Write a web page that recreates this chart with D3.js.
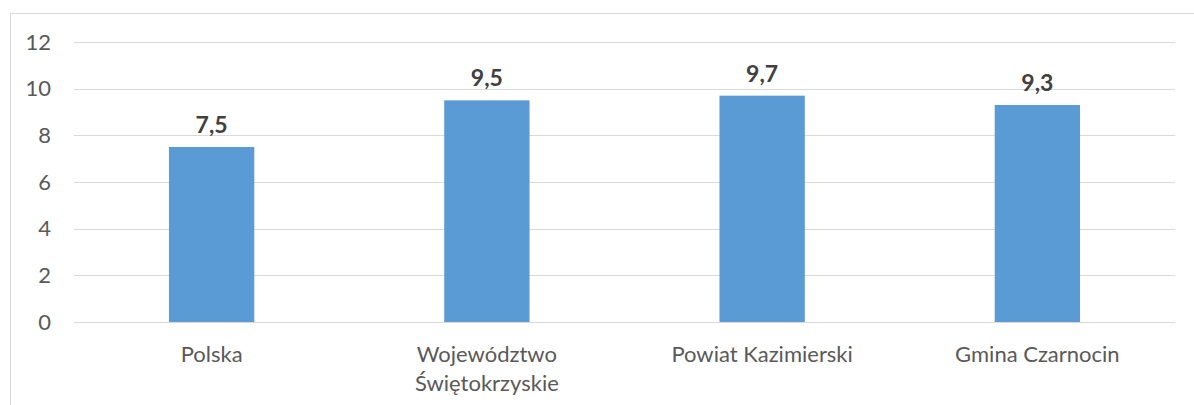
<!DOCTYPE html>
<html>
<head>
<meta charset="utf-8">
<script src="https://cdn.jsdelivr.net/npm/d3@7"></script>
<style>
  body { margin: 0; background: #fff; }
  svg { display: block; font-family: Lato, "Open Sans", sans-serif; }
</style>
</head>
<body>
<div id="chart"></div>
<script>
var categories = [["Polska"], ["Województwo", "Świętokrzyskie"], ["Powiat Kazimierski"], ["Gmina Czarnocin"]];
var values = [7.5, 9.5, 9.7, 9.3];
var yTicks = [0, 2, 4, 6, 8, 10, 12];

var width = 1194, height = 405;
var margin = {top: 42, right: 19, bottom: 83, left: 74};

var svg = d3.select("#chart").append("svg")
    .attr("width", width)
    .attr("height", height);

// chart frame
svg.append("rect")
    .attr("x", 10.5).attr("y", 13.5)
    .attr("width", 1200).attr("height", 420)
    .attr("fill", "none").attr("stroke", "#d9d9d9");

var x = d3.scaleBand()
    .domain(d3.range(categories.length))
    .range([margin.left, width - margin.right])
    .paddingInner(0.69).paddingOuter(0.345);

var y = d3.scaleLinear()
    .domain([0, 12])
    .range([height - margin.bottom, margin.top]);

// gridlines
svg.append("g").selectAll("line")
    .data(yTicks)
    .enter().append("line")
    .attr("x1", margin.left).attr("x2", width - margin.right)
    .attr("y1", function(d){ return Math.round(y(d)) + 0.5; })
    .attr("y2", function(d){ return Math.round(y(d)) + 0.5; })
    .attr("stroke", "#d9d9d9").attr("stroke-width", 1);

// y labels
svg.append("g").selectAll("text")
    .data(yTicks)
    .enter().append("text")
    .attr("x", 51)
    .attr("y", function(d){ return y(d); })
    .attr("dy", "0.35em")
    .attr("text-anchor", "end")
    .attr("fill", "#595959")
    .style("font-size", "22px")
    .text(function(d){ return d; });

// bars
svg.append("g").selectAll("rect")
    .data(values)
    .enter().append("rect")
    .attr("x", function(d, i){ return x(i); })
    .attr("width", x.bandwidth())
    .attr("y", function(d){ return y(d); })
    .attr("height", function(d){ return y(0) - y(d); })
    .attr("fill", "#5b9bd5");

// value labels
svg.append("g").selectAll("text")
    .data(values)
    .enter().append("text")
    .attr("x", function(d, i){ return x(i) + x.bandwidth() / 2; })
    .attr("y", function(d){ return y(d) - 14; })
    .attr("text-anchor", "middle")
    .attr("fill", "#404040")
    .style("font-size", "23px")
    .style("font-weight", "bold")
    .text(function(d){ return String(d).replace(".", ","); });

// category labels
var cat = svg.append("g").selectAll("text")
    .data(categories)
    .enter().append("text")
    .attr("x", function(d, i){ return x(i) + x.bandwidth() / 2; })
    .attr("y", 362)
    .attr("text-anchor", "middle")
    .attr("fill", "#595959")
    .style("font-size", "22px");

cat.selectAll("tspan")
    .data(function(d){ return d; })
    .enter().append("tspan")
    .attr("x", function(){ return d3.select(this.parentNode).attr("x"); })
    .attr("dy", function(d, i){ return i === 0 ? 0 : 29; })
    .text(function(d){ return d; });
</script>
</body>
</html>
